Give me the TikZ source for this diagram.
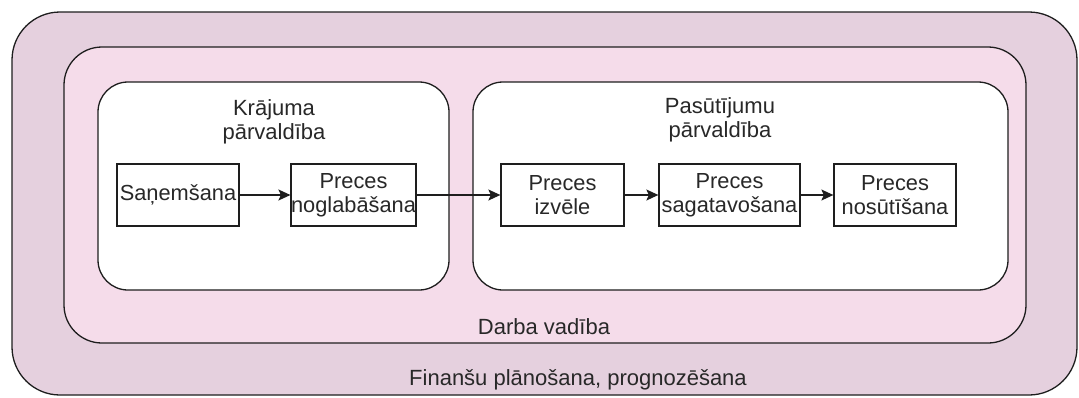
\documentclass[tikz,border=0pt]{standalone}
\usepackage{fontspec}
\setmainfont{Liberation Sans}
\usetikzlibrary{arrows.meta}
\definecolor{outerfill}{RGB}{229,208,222}
\definecolor{midfill}{RGB}{245,220,234}
\definecolor{txt}{RGB}{40,40,40}
\definecolor{edge}{RGB}{30,30,30}
\begin{document}
\begin{tikzpicture}[x=1pt,y=-1pt,
  region/.style={draw=edge, line width=1.3pt, rounded corners=#1, inner sep=0pt},
  stepbox/.style={draw=edge, line width=1.3pt, fill=white, minimum height=62pt,
    inner sep=0pt, align=center, text=txt, font=\fontsize{21.8}{24}\selectfont},
  lbl/.style={text=txt, align=center, inner sep=0pt, font=\fontsize{22}{24}\selectfont},
  flow/.style={-{Stealth[length=12pt,width=11pt,inset=2.5pt]}, line width=1.3pt, draw=edge}
]
\useasboundingbox (0,0) rectangle (1079,397);
% containers
\node[region=48, fill=outerfill, minimum width=1065pt, minimum height=383pt] (outer) at (544.5,203.5) {};
\node[region=38, fill=midfill, minimum width=962pt, minimum height=296pt] (mid) at (545,195) {};
\node[region=30, fill=white, minimum width=351pt, minimum height=208pt] (krajums) at (273.5,186) {};
\node[region=30, fill=white, minimum width=535pt, minimum height=208pt] (pasut) at (740.5,186) {};
% container labels
\node[lbl] (lk) at (274,122) {Krājuma\\pārvaldība};
\node[lbl] (lp) at (720,120) {Pasūtījumu\\pārvaldība};
\node[lbl] (ld) at (544,327) {Darba vadība};
\node[lbl] (lf) at (578,380) {Finanšu plānošana, prognozēšana};
% steps
\node[stepbox, minimum width=122pt] (sane) at (178,195) {Saņemšana};
\node[stepbox, minimum width=123pt] (nogl) at (353.5,195) {Preces\\noglabāšana};
\node[stepbox, minimum width=123pt] (izv) at (562.5,195) {Preces\\izvēle};
\node[stepbox, minimum width=141pt] (sag) at (729.5,195) {Preces\\sagatavošana};
\node[stepbox, minimum width=122pt] (nos) at (895,195) {Preces\\nosūtīšana};
% flows
\draw[flow] (sane) -- (nogl);
\draw[flow] (nogl) -- (izv);
\draw[flow] (izv) -- (sag);
\draw[flow] (sag) -- (nos);
\end{tikzpicture}
\end{document}
